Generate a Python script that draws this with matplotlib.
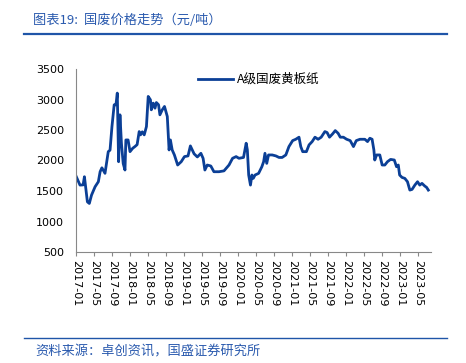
import matplotlib
matplotlib.use("Agg")
import matplotlib.pyplot as plt
import pandas as pd

plt.rcParams['font.family'] = ['DejaVu Sans', 'Noto Sans CJK SC']

title = "图表19:  国废价格走势（元/吨）"
source = "资料来源：卓创资讯，国盛证券研究所"
series_name = "A级国废黄板纸"

dates = [
    "2017-01-01", "2017-01-28", "2017-02-18", "2017-02-27", "2017-03-19", "2017-04-01",
    "2017-04-16", "2017-05-10", "2017-06-01", "2017-06-13", "2017-06-25", "2017-07-16",
    "2017-08-07", "2017-08-19", "2017-09-01", "2017-09-16", "2017-09-28", "2017-10-07",
    "2017-10-16", "2017-10-25", "2017-11-04", "2017-11-16", "2017-11-28", "2017-12-04",
    "2017-12-19", "2018-01-01", "2018-01-19", "2018-02-04", "2018-02-18", "2018-03-04",
    "2018-03-13", "2018-03-25", "2018-04-07", "2018-04-22", "2018-05-04", "2018-05-19",
    "2018-05-25", "2018-06-07", "2018-06-19", "2018-06-28", "2018-07-13", "2018-07-22",
    "2018-08-07", "2018-08-22", "2018-09-10", "2018-09-22", "2018-10-01", "2018-10-13",
    "2018-10-28", "2018-11-19", "2018-12-13", "2019-01-04", "2019-01-28", "2019-02-13",
    "2019-02-26", "2019-03-10", "2019-04-01", "2019-04-25", "2019-05-10", "2019-05-22",
    "2019-06-07", "2019-07-01", "2019-07-22", "2019-08-25", "2019-09-28", "2019-11-01",
    "2019-11-25", "2019-12-19", "2020-01-07", "2020-02-07", "2020-02-25", "2020-03-04",
    "2020-03-13", "2020-03-25", "2020-04-04", "2020-04-13", "2020-04-25", "2020-05-19",
    "2020-06-10", "2020-06-22", "2020-07-01", "2020-07-13", "2020-07-25", "2020-08-19",
    "2020-09-13", "2020-10-04", "2020-10-25", "2020-11-19", "2020-12-10", "2021-01-04",
    "2021-01-25", "2021-02-16", "2021-02-28", "2021-03-13", "2021-04-07", "2021-04-25",
    "2021-05-16", "2021-06-04", "2021-06-25", "2021-07-16", "2021-08-10", "2021-08-25",
    "2021-09-10", "2021-10-01", "2021-10-19", "2021-11-07", "2021-11-22", "2021-12-13",
    "2022-01-04", "2022-01-28", "2022-02-19", "2022-03-10", "2022-04-04", "2022-05-07",
    "2022-05-25", "2022-06-10", "2022-06-25", "2022-07-07", "2022-07-13", "2022-07-25",
    "2022-08-16", "2022-09-01", "2022-09-19", "2022-10-07", "2022-10-28", "2022-11-22",
    "2022-12-07", "2022-12-19", "2022-12-28", "2023-01-13", "2023-02-01", "2023-02-19",
    "2023-03-07", "2023-03-22", "2023-04-10", "2023-04-28", "2023-05-13", "2023-05-28",
    "2023-06-16", "2023-06-28", "2023-07-10",
]
prices = [
    1745, 1597, 1600, 1734, 1322, 1296,
    1433, 1570, 1652, 1816, 1880, 1790,
    2145, 2170, 2556, 2913, 2913, 3105,
    1980, 2749, 2283, 1950, 1844, 2337,
    2337, 2145, 2200, 2230, 2260, 2474,
    2420, 2470, 2420, 2556, 3050, 2995,
    2831, 2940, 2858, 2950, 2913, 2749,
    2831, 2886, 2721, 2173, 2337, 2173,
    2091, 1926, 1980, 2064, 2075, 2239,
    2173, 2110, 2058, 2118, 2035, 1844,
    1926, 1910, 1816, 1816, 1830, 1926,
    2036, 2064, 2036, 2050, 2283, 2173,
    1762, 1597, 1762, 1707, 1762, 1789,
    1898, 1981, 2118, 1953, 2091, 2091,
    2075, 2050, 2050, 2091, 2228, 2326,
    2348, 2382, 2228, 2145, 2145, 2256,
    2310, 2382, 2348, 2382, 2474, 2458,
    2382, 2436, 2490, 2447, 2382, 2382,
    2348, 2326, 2228, 2326, 2348, 2348,
    2310, 2365, 2348, 2173, 2008, 2091,
    2091, 1926, 1926, 1981, 2018, 2008,
    1898, 1926, 1762, 1723, 1707, 1652,
    1515, 1526, 1597, 1652, 1597, 1625,
    1581, 1560, 1515,
]
tick_labels = [
    "2017-01", "2017-05", "2017-09", "2018-01", "2018-05", "2018-09", "2019-01",
    "2019-05", "2019-09", "2020-01", "2020-05", "2020-09", "2021-01", "2021-05",
    "2021-09", "2022-01", "2022-05", "2022-09", "2023-01", "2023-05",
]
y_ticks = [500, 1000, 1500, 2000, 2500, 3000, 3500]

blue_line = "#0B3F96"
blue_text = "#2A5AAE"

fig = plt.figure(figsize=(4.66, 3.63), dpi=100)
ax = fig.add_axes([76 / 466, 1 - 252 / 363, 354.7 / 466, 183 / 363])

x = pd.to_datetime(dates)
ax.plot(x, prices, color=blue_line, lw=2.0, label=series_name)

ax.set_ylim(500, 3500)
ax.set_yticks(y_ticks)
ax.set_xlim(pd.Timestamp("2017-01-01"), pd.Timestamp("2023-07-26"))
ax.set_xticks(pd.to_datetime([t + "-01" for t in tick_labels]))
ax.set_xticklabels(tick_labels, rotation=-90, fontsize=8)
ax.tick_params(axis='y', length=0, labelsize=8, pad=8.5)
ax.tick_params(axis='x', length=3, color="#888888", pad=3)
for s in ["top", "right"]:
    ax.spines[s].set_visible(False)
for s in ["left", "bottom"]:
    ax.spines[s].set_color("#888888")
    ax.spines[s].set_linewidth(0.8)

leg = ax.legend(loc="upper center", bbox_to_anchor=(0.515, 1.04), frameon=False,
                handlelength=2.8, handletextpad=0.3,
                prop={'family': ['Noto Sans CJK SC'], 'size': 9})

fig.text(33 / 466, 1 - 20 / 363, title, color=blue_text, fontsize=9.5,
         family=['Noto Sans CJK SC'], va='center', ha='left', style='italic')
fig.text(35 / 466, 1 - 352 / 363, source, color=blue_text, fontsize=9.5,
         family=['Noto Sans CJK SC'], va='center', ha='left', style='italic')
fig.add_artist(plt.Line2D([24 / 466, 447 / 466], [1 - 33.5 / 363] * 2,
                          color="#1F55A8", lw=1.6))
fig.add_artist(plt.Line2D([24 / 466, 447 / 466], [1 - 337.5 / 363] * 2,
                          color="#1F55A8", lw=1.0))

fig.savefig("out.png", dpi=100)
